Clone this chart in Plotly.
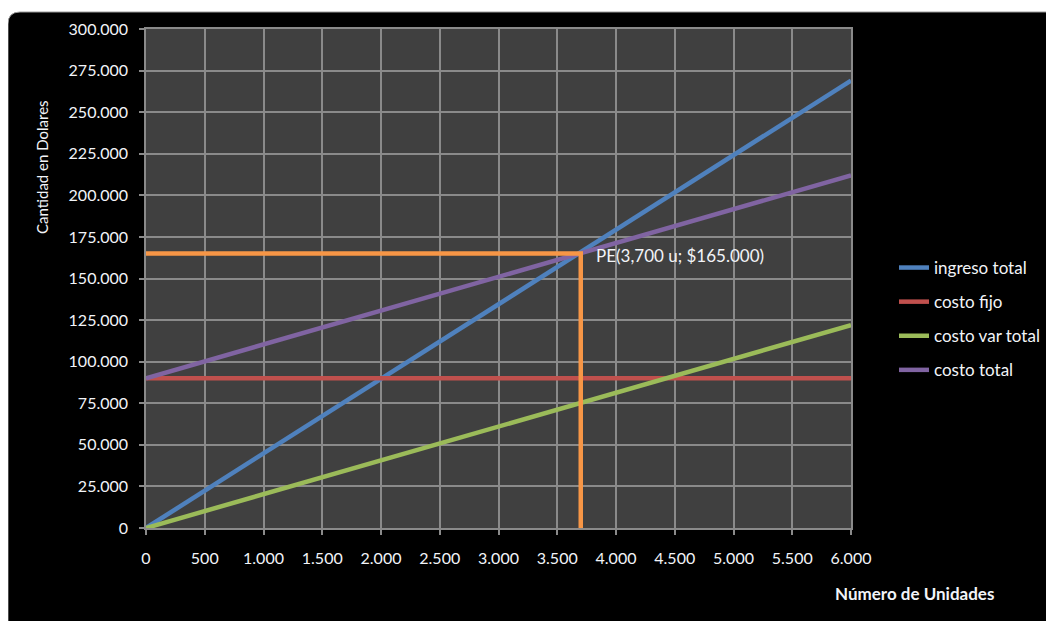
import plotly.graph_objects as go

# ---- data ----
units = [0, 6000]
ingreso_total = [0, 269000]
costo_fijo = [90000, 90000]
costo_var_total = [0, 122000]
costo_total = [90000, 212000]

pe_units = 3700
pe_amount = 165000
pe_label = "PE(3,700 u; $165.000)"

series_names = ["ingreso total", "costo fijo", "costo var total", "costo total"]
series_values = [ingreso_total, costo_fijo, costo_var_total, costo_total]
series_colors = ["#4F81BD", "#C0504D", "#9BBB59", "#8064A2"]
pe_color = "#F79646"

x_ticks = [0, 500, 1000, 1500, 2000, 2500, 3000, 3500, 4000, 4500, 5000, 5500, 6000]
y_ticks = [0, 25000, 50000, 75000, 100000, 125000, 150000, 175000, 200000,
           225000, 250000, 275000, 300000]

FONT = "Lato"
TXT = "#F2F4F8"
GRID = "#8A8A8A"
PLOTBG = "#404040"

OFF = 8  # page body margin
W, H = 1054 - OFF, 621 - OFF
# plot area in screen pixels of the reference
SL, SR, ST, SB = 146, 851, 29, 528
L, R, T, B = SL - OFF, SR - OFF, ST - OFF, SB - OFF


def px(xs):
    return (xs - SL) / (SR - SL)


def py(ys):
    return (SB - ys) / (SB - ST)


fig = go.Figure()

for name, vals, col in zip(series_names, series_values, series_colors):
    fig.add_trace(go.Scatter(x=units, y=vals, mode="lines", name=name,
                             legendgroup=name,
                             line=dict(color=col, width=4.5),
                             hoverinfo="skip"))

# break-even guide lines
fig.add_trace(go.Scatter(x=[0, pe_units, pe_units], y=[pe_amount, pe_amount, 0],
                         mode="lines", line=dict(color=pe_color, width=4.5),
                         showlegend=False, hoverinfo="skip"))

# black rounded frame (paper coords)
x0, x1, y0, y1 = px(8), px(1070), py(12), py(640)
rx, ry = 12 / (SR - SL), 12 / (SB - ST)
frame_path = (f"M{x0},{y1} L{x0},{y0 - ry} Q{x0},{y0} {x0 + rx},{y0} "
              f"L{x1},{y0} L{x1},{y1} Z")

fig.update_layout(
    width=W, height=H,
    margin=dict(l=L, r=W - R, t=T, b=H - B, autoexpand=False),
    paper_bgcolor="white",
    plot_bgcolor=PLOTBG,
    separators=",.",
    font=dict(family=FONT, size=16, color=TXT),
    shapes=[
        dict(type="path", xref="paper", yref="paper", path=frame_path,
             fillcolor="black", line=dict(color="#9A9A9A", width=1), layer="below"),
        dict(type="rect", xref="x", yref="y", x0=0, x1=6000, y0=0, y1=300000,
             fillcolor=PLOTBG, line=dict(width=0), layer="below"),
    ],
    xaxis=dict(range=[0, 6000], tickvals=x_ticks, tickformat=",d",
               showgrid=True, gridcolor=GRID, gridwidth=1.5,
               ticks="outside", ticklen=5, tickcolor=GRID, tickwidth=1.5,
               ticklabelstandoff=10, showline=True, linecolor=GRID, linewidth=1.5,
               mirror=True, zeroline=False,
               tickfont=dict(family=FONT, size=16, color=TXT)),
    yaxis=dict(range=[0, 300000], tickvals=y_ticks, tickformat=",d",
               showgrid=True, gridcolor=GRID, gridwidth=1.5,
               ticks="outside", ticklen=5, tickcolor=GRID, tickwidth=1.5,
               ticklabelstandoff=8, showline=True, linecolor=GRID, linewidth=1.5,
               mirror=True, zeroline=False,
               tickfont=dict(family=FONT, size=16, color=TXT)),
    legend=dict(x=px(894), y=py(250), xanchor="left", yanchor="top",
                bgcolor="rgba(0,0,0,0)", tracegroupgap=9,
                font=dict(family=FONT, size=17, color=TXT),
                itemwidth=30),
    annotations=[
        dict(text="Cantidad en Dolares", xref="paper", yref="paper",
             x=px(42), y=py(167), xanchor="center", yanchor="middle",
             showarrow=False, textangle=-90,
             font=dict(family=FONT, size=15, color=TXT)),
        dict(text="<b>Número de Unidades</b>", xref="paper", yref="paper",
             x=px(915), y=py(593), xanchor="center", yanchor="middle",
             showarrow=False,
             font=dict(family=FONT, size=17, color=TXT)),
        dict(text=pe_label, xref="paper", yref="paper",
             x=px(594), y=py(255), xanchor="left", yanchor="middle",
             showarrow=False,
             font=dict(family=FONT, size=17, color=TXT)),
    ],
)

fig.write_html("out.html")
